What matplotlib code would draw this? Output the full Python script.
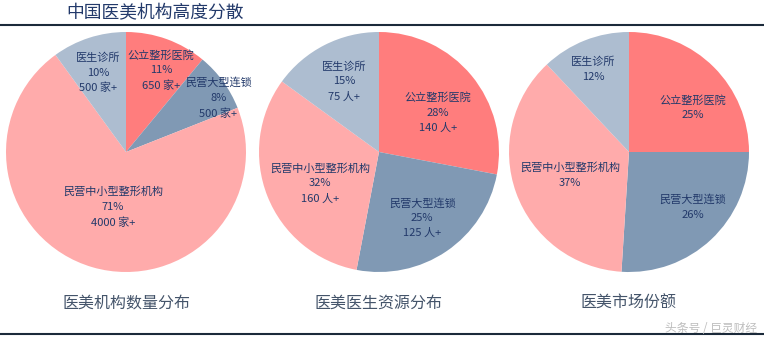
import matplotlib.pyplot as plt

plt.rcParams['font.family'] = ['Noto Sans CJK SC', 'DejaVu Sans']

# Données
categories = ["公立整形医院", "民营大型连锁", "民营中小型整形机构", "医生诊所"]
shares_count = [11, 8, 71, 10]
shares_doctors = [28, 25, 32, 15]
shares_market = [25, 26, 37, 12]
extra_count = ["650 家+", "500 家+", "4000 家+", "500 家+"]
extra_doctors = ["140 人+", "125 人+", "160 人+", "75 人+"]
pie_titles = ["医美机构数量分布", "医美医生资源分布", "医美市场份额"]

colors = ["#FF7D7D", "#8099B4", "#FFABAB", "#ADBDD0"]
txt_color = "#22396A"

W, H = 764, 340
fig = plt.figure(figsize=(W / 100, H / 100), dpi=100)
ax = fig.add_axes([0, 0, 1, 1])

R = 120
centers = [(126, H - 152), (379, H - 152), (629, H - 152)]
# positions des étiquettes (en rayons, par rapport au centre)
label_pos = [
    [(0.29, 0.68), (0.77, 0.45), (-0.11, -0.46), (-0.23, 0.66)],
    [(0.49, 0.33), (0.36, -0.55), (-0.49, -0.26), (-0.29, 0.59)],
    [(0.53, 0.37), (0.53, -0.46), (-0.49, -0.19), (-0.30, 0.69)],
]

series = [(shares_count, extra_count), (shares_doctors, extra_doctors),
          (shares_market, None)]

for k, (vals, extra) in enumerate(series):
    cx, cy = centers[k]
    ax.pie(vals, colors=colors, startangle=90, counterclock=False,
           center=(cx, cy), radius=R, wedgeprops=dict(linewidth=0))
    for i, cat in enumerate(categories):
        lines = [cat, f"{vals[i]}%"]
        if extra is not None:
            lines.append(extra[i])
        dx, dy = label_pos[k][i]
        ax.text(cx + dx * R, cy + dy * R, "\n".join(lines), ha="center",
                va="center", fontsize=8, color=txt_color, linespacing=1.6)
    ax.text(cx, H - 303, pie_titles[k], ha="center", va="center",
            fontsize=11.5, color="#44546A")

# Titre et lignes
ax.text(66, H - 13, "中国医美机构高度分散", ha="left", va="center",
        fontsize=12.8, color=txt_color)
ax.plot([0, W], [H - 24.5, H - 24.5], color="#1B2A3A", lw=1.5)
ax.plot([0, W], [H - 334, H - 334], color="#1B2A3A", lw=1.5)
ax.text(757, H - 328, "头条号 / 巨灵财经", ha="right", va="center",
        fontsize=8.5, color="#BEBEBE")

ax.set_xlim(0, W)
ax.set_ylim(0, H)
ax.set_aspect('equal')
ax.axis('off')

fig.savefig("out.png", dpi=100)
